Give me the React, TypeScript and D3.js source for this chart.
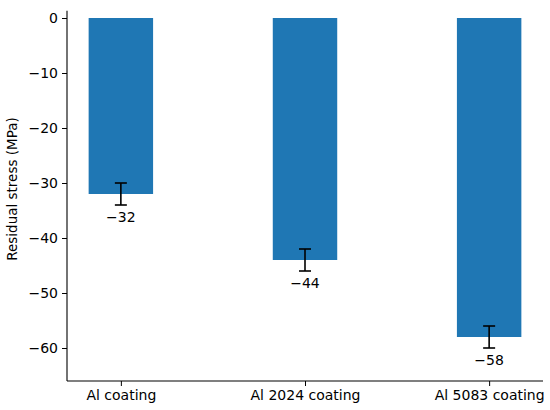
import React, { useEffect, useRef } from 'react';
import * as d3 from 'd3';

const categories = ["Al coating", "Al 2024 coating", "Al 5083 coating"];
const stress = [-32, -44, -58];
const errors = [2, 2, 2];
const yTicks = [0, -10, -20, -30, -40, -50, -60];

const App: React.FC = () => {
  const svgRef = useRef<SVGSVGElement>(null);

  useEffect(() => {
    document.body.style.margin = "0";
    if (!svgRef.current) return;
    const svg = d3.select(svgRef.current);
    svg.selectAll("*").remove();

    const font = "DejaVu Sans, sans-serif";
    const left = 67, right = 543, top = 18, bottom = 381;
    const barWidth = 0.35;
    const minus = (v: number) => String(v).replace("-", "\u2212");

    const x = d3.scaleLinear()
      .domain([-barWidth / 2 - 0.1175, categories.length - 1 + barWidth / 2 + 0.1175])
      .range([left, right]);
    const y = d3.scaleLinear().domain([0, -66]).range([top, bottom]);

    // Bars
    svg.append("g")
      .selectAll("rect")
      .data(stress)
      .join("rect")
      .attr("x", (_, i) => x(i - barWidth / 2))
      .attr("width", x(barWidth) - x(0))
      .attr("y", y(0))
      .attr("height", d => y(d) - y(0))
      .attr("fill", "#1f77b4");

    // Error bars
    const eb = svg.append("g").attr("stroke", "#000").attr("stroke-width", 1.6);
    stress.forEach((v, i) => {
      const cx = x(i);
      eb.append("line").attr("x1", cx).attr("x2", cx).attr("y1", y(v + errors[i])).attr("y2", y(v - errors[i]));
      [v + errors[i], v - errors[i]].forEach(e => {
        eb.append("line").attr("x1", cx - 6).attr("x2", cx + 6).attr("y1", y(e)).attr("y2", y(e));
      });
    });

    // Value labels
    svg.append("g")
      .selectAll("text")
      .data(stress)
      .join("text")
      .attr("x", (_, i) => x(i))
      .attr("y", (d, i) => y(d - errors[i]) + 4)
      .attr("dy", "0.95em")
      .attr("text-anchor", "middle")
      .style("font-family", font)
      .style("font-size", "14px")
      .attr("fill", "#000")
      .text(d => minus(d));

    // Y axis
    const yAxis = svg.append("g")
      .attr("transform", `translate(${left},0)`)
      .call(d3.axisLeft(y).tickValues(yTicks).tickSize(5).tickPadding(4)
        .tickFormat(d => minus(d as number)));
    yAxis.selectAll("text").style("font-family", font).style("font-size", "14px").attr("fill", "#000");
    yAxis.selectAll("line").attr("stroke", "#000").attr("stroke-width", 1);
    yAxis.select(".domain").attr("d", `M0,${y(1.3)}V${bottom}`).attr("stroke", "#000").attr("stroke-width", 1.1);

    // X axis
    const xAxis = svg.append("g")
      .attr("transform", `translate(0,${bottom})`)
      .call(d3.axisBottom(x).tickValues(d3.range(categories.length)).tickSize(5).tickPadding(4)
        .tickFormat((_, i) => categories[i]));
    xAxis.selectAll("text").style("font-family", font).style("font-size", "14px").attr("fill", "#000");
    xAxis.selectAll("line").attr("stroke", "#000").attr("stroke-width", 1);
    xAxis.select(".domain").attr("d", `M${left},0H${right}`).attr("stroke", "#000").attr("stroke-width", 1.1);

    // Y label
    svg.append("text")
      .attr("transform", `translate(17,189) rotate(-90)`)
      .attr("text-anchor", "middle")
      .style("font-family", font)
      .style("font-size", "13.5px")
      .attr("fill", "#000")
      .text("Residual stress (MPa)");
  }, []);

  return <svg ref={svgRef} width={550} height={410} style={{ display: "block", background: "#fff" }} />;
};

export default App;
